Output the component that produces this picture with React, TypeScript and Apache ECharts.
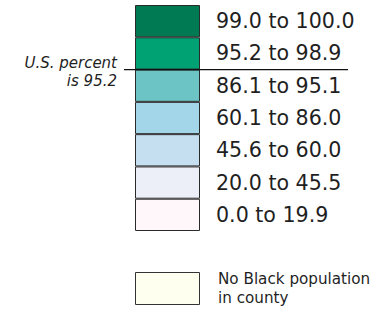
import React, { useEffect, useRef } from "react";
import * as echarts from "echarts";

// Legend classes, bottom to top
const classLabels = [
  "0.0 to 19.9",
  "20.0 to 45.5",
  "45.6 to 60.0",
  "60.1 to 86.0",
  "86.1 to 95.1",
  "95.2 to 98.9",
  "99.0 to 100.0",
];
const classColors = [
  "#fff7fa",
  "#eceef8",
  "#c6dff0",
  "#a3d6e9",
  "#6cc4c4",
  "#00a274",
  "#007a52",
];
const classSizes = [1, 1, 1, 1, 1, 1, 1];
const usPercentBoundary = 5; // boundary between 86.1–95.1 and 95.2–98.9
const usLabel = "U.S. percent\nis 95.2";
const noDataLabel = "No Black population\nin county";
const noDataColor = "#fffff0";

const FONT = "DejaVu Sans";

export default function App() {
  const ref = useRef<HTMLDivElement>(null);
  useEffect(() => {
    if (!ref.current) return;
    const chart = echarts.init(ref.current, undefined, { renderer: "svg" });
    const series: any[] = classLabels.map((lab, i) => ({
      type: "bar",
      name: lab,
      stack: "legend",
      xAxisIndex: 0,
      yAxisIndex: 0,
      barWidth: "100%",
      data: [classSizes[i]],
      itemStyle: { color: classColors[i], borderColor: "#2a2a2a", borderWidth: 1 },
      label: {
        show: true,
        position: "right",
        distance: 16,
        formatter: lab,
        fontFamily: FONT,
        fontSize: 20.6,
        color: "#1f1f1f",
      },
      silent: true,
    }));
    series.push({
      type: "bar",
      xAxisIndex: 1,
      yAxisIndex: 1,
      barWidth: "100%",
      data: [1],
      itemStyle: { color: noDataColor, borderColor: "#333", borderWidth: 1 },
      label: {
        show: true,
        position: "right",
        distance: 18,
        formatter: noDataLabel,
        fontFamily: FONT,
        fontSize: 15.2,
        lineHeight: 19,
        color: "#1f1f1f",
        align: "left",
      },
      silent: true,
    });
    chart.setOption({
      animation: false,
      grid: [
        { left: 135, top: 5, width: 65, height: 226 },
        { left: 135, top: 272, width: 65, height: 33 },
      ],
      xAxis: [
        { type: "category", data: ["a"], show: false, gridIndex: 0 },
        { type: "category", data: ["b"], show: false, gridIndex: 1 },
      ],
      yAxis: [
        { type: "value", min: 0, max: classSizes.length, show: false, gridIndex: 0 },
        { type: "value", min: 0, max: 1, show: false, gridIndex: 1 },
      ],
      series,
    });
    const yLine = chart.convertToPixel({ yAxisIndex: 0 }, usPercentBoundary) as number;
    chart.setOption({
      graphic: [
        {
          type: "line",
          shape: { x1: 124, y1: yLine, x2: 348, y2: yLine },
          style: { stroke: "#111", lineWidth: 1.2 },
          z: 10,
        },
        {
          type: "text",
          x: 117,
          y: yLine + 2,
          style: {
            text: usLabel,
            fontFamily: FONT,
            fontStyle: "italic",
            fontSize: 15,
            lineHeight: 18,
            fill: "#1f1f1f",
            align: "right",
            verticalAlign: "middle",
          },
        },
      ],
    });
    return () => chart.dispose();
  }, []);
  return <div ref={ref} style={{ width: 381, height: 312, position: "absolute", left: 0, top: 0 }} />;
}
